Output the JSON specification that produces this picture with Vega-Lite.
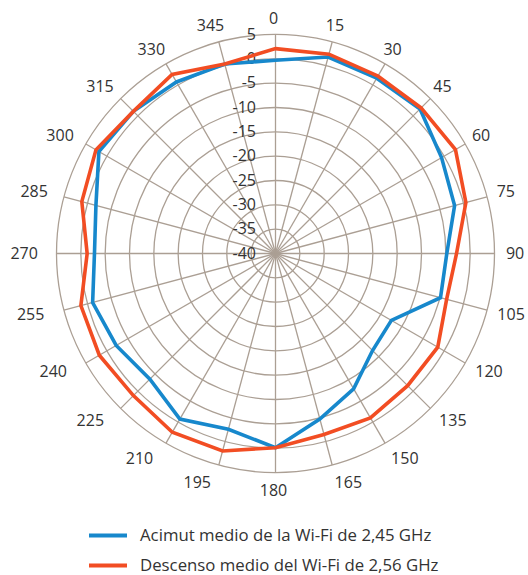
{
  "$schema": "https://vega.github.io/schema/vega-lite/v6.json",
  "width": 438,
  "height": 438,
  "autosize": {"type": "none"},
  "padding": {"left": 56.5, "top": 34.5, "right": 33.5, "bottom": 102.5},
  "background": "white",
  "config": {"view": {"stroke": null}, "font": "Open Sans"},
  "datasets": {
    "rings": [{"ring": -35}, {"ring": -30}, {"ring": -25}, {"ring": -20}, {"ring": -15}, {"ring": -10}, {"ring": -5}, {"ring": 0}, {"ring": 5}],
    "labels": [{"ring": -40}, {"ring": -35}, {"ring": -30}, {"ring": -25}, {"ring": -20}, {"ring": -15}, {"ring": -10}, {"ring": -5}, {"ring": 0}, {"ring": 5}],
    "angles": [{"angle": 0}, {"angle": 15}, {"angle": 30}, {"angle": 45}, {"angle": 60}, {"angle": 75}, {"angle": 90}, {"angle": 105}, {"angle": 120}, {"angle": 135}, {"angle": 150}, {"angle": 165}, {"angle": 180}, {"angle": 195}, {"angle": 210}, {"angle": 225}, {"angle": 240}, {"angle": 255}, {"angle": 270}, {"angle": 285}, {"angle": 300}, {"angle": 315}, {"angle": 330}, {"angle": 345}],
    "series": [
      {"series": "Acimut medio de la Wi-Fi de 2,45 GHz", "angle": 0, "value": -0.3},
      {"series": "Acimut medio de la Wi-Fi de 2,45 GHz", "angle": 15, "value": 1.8},
      {"series": "Acimut medio de la Wi-Fi de 2,45 GHz", "angle": 30, "value": 1.6},
      {"series": "Acimut medio de la Wi-Fi de 2,45 GHz", "angle": 45, "value": 2.0},
      {"series": "Acimut medio de la Wi-Fi de 2,45 GHz", "angle": 60, "value": -0.6},
      {"series": "Acimut medio de la Wi-Fi de 2,45 GHz", "angle": 75, "value": -1.9},
      {"series": "Acimut medio de la Wi-Fi de 2,45 GHz", "angle": 90, "value": -4.8},
      {"series": "Acimut medio de la Wi-Fi de 2,45 GHz", "angle": 105, "value": -4.9},
      {"series": "Acimut medio de la Wi-Fi de 2,45 GHz", "angle": 120, "value": -12.5},
      {"series": "Acimut medio de la Wi-Fi de 2,45 GHz", "angle": 135, "value": -11.8},
      {"series": "Acimut medio de la Wi-Fi de 2,45 GHz", "angle": 150, "value": -7.9},
      {"series": "Acimut medio de la Wi-Fi de 2,45 GHz", "angle": 165, "value": -4.8},
      {"series": "Acimut medio de la Wi-Fi de 2,45 GHz", "angle": 180, "value": -0.1},
      {"series": "Acimut medio de la Wi-Fi de 2,45 GHz", "angle": 195, "value": -2.6},
      {"series": "Acimut medio de la Wi-Fi de 2,45 GHz", "angle": 210, "value": -0.7},
      {"series": "Acimut medio de la Wi-Fi de 2,45 GHz", "angle": 225, "value": -3.5},
      {"series": "Acimut medio de la Wi-Fi de 2,45 GHz", "angle": 240, "value": -2.2},
      {"series": "Acimut medio de la Wi-Fi de 2,45 GHz", "angle": 255, "value": -1.1},
      {"series": "Acimut medio de la Wi-Fi de 2,45 GHz", "angle": 270, "value": -2.8},
      {"series": "Acimut medio de la Wi-Fi de 2,45 GHz", "angle": 285, "value": -1.8},
      {"series": "Acimut medio de la Wi-Fi de 2,45 GHz", "angle": 300, "value": 1.9},
      {"series": "Acimut medio de la Wi-Fi de 2,45 GHz", "angle": 315, "value": 1.3},
      {"series": "Acimut medio de la Wi-Fi de 2,45 GHz", "angle": 330, "value": 0.7},
      {"series": "Acimut medio de la Wi-Fi de 2,45 GHz", "angle": 345, "value": 0.3},
      {"series": "Descenso medio del Wi-Fi de 2,56 GHz", "angle": 0, "value": 2.1},
      {"series": "Descenso medio del Wi-Fi de 2,56 GHz", "angle": 15, "value": 2.4},
      {"series": "Descenso medio del Wi-Fi de 2,56 GHz", "angle": 30, "value": 2.1},
      {"series": "Descenso medio del Wi-Fi de 2,56 GHz", "angle": 45, "value": 2.3},
      {"series": "Descenso medio del Wi-Fi de 2,56 GHz", "angle": 60, "value": 2.7},
      {"series": "Descenso medio del Wi-Fi de 2,56 GHz", "angle": 75, "value": 0.5},
      {"series": "Descenso medio del Wi-Fi de 2,56 GHz", "angle": 90, "value": -2.8},
      {"series": "Descenso medio del Wi-Fi de 2,56 GHz", "angle": 105, "value": -3.6},
      {"series": "Descenso medio del Wi-Fi de 2,56 GHz", "angle": 120, "value": -1.5},
      {"series": "Descenso medio del Wi-Fi de 2,56 GHz", "angle": 135, "value": -1.6},
      {"series": "Descenso medio del Wi-Fi de 2,56 GHz", "angle": 150, "value": -1.0},
      {"series": "Descenso medio del Wi-Fi de 2,56 GHz", "angle": 165, "value": -1.5},
      {"series": "Descenso medio del Wi-Fi de 2,56 GHz", "angle": 180, "value": -0.1},
      {"series": "Descenso medio del Wi-Fi de 2,56 GHz", "angle": 195, "value": 2.0},
      {"series": "Descenso medio del Wi-Fi de 2,56 GHz", "angle": 210, "value": 2.4},
      {"series": "Descenso medio del Wi-Fi de 2,56 GHz", "angle": 225, "value": 1.3},
      {"series": "Descenso medio del Wi-Fi de 2,56 GHz", "angle": 240, "value": 1.8},
      {"series": "Descenso medio del Wi-Fi de 2,56 GHz", "angle": 255, "value": 1.4},
      {"series": "Descenso medio del Wi-Fi de 2,56 GHz", "angle": 270, "value": -1.3},
      {"series": "Descenso medio del Wi-Fi de 2,56 GHz", "angle": 285, "value": 1.2},
      {"series": "Descenso medio del Wi-Fi de 2,56 GHz", "angle": 300, "value": 2.6},
      {"series": "Descenso medio del Wi-Fi de 2,56 GHz", "angle": 315, "value": 1.3},
      {"series": "Descenso medio del Wi-Fi de 2,56 GHz", "angle": 330, "value": 2.5},
      {"series": "Descenso medio del Wi-Fi de 2,56 GHz", "angle": 345, "value": 0.3}
    ]
  },
  "layer": [
    {
      "data": {"name": "rings"},
      "transform": [{"calculate": "datum.ring + 40", "as": "rr"}, {"calculate": "0", "as": "c"}],
      "mark": {"type": "point", "shape": "circle", "filled": false, "stroke": "#ab9f94", "strokeWidth": 1.3, "opacity": 1},
      "encoding": {
        "x": {"field": "c", "type": "quantitative", "scale": {"domain": [-45, 45], "nice": false, "zero": false}, "axis": null},
        "y": {"field": "c", "type": "quantitative", "scale": {"domain": [-45, 45], "nice": false, "zero": false}, "axis": null},
        "size": {"field": "rr", "type": "quantitative", "scale": {"type": "pow", "exponent": 2, "domain": [0, 45], "range": [0, 191844]}, "legend": null}
      }
    },
    {
      "data": {"name": "angles"},
      "transform": [
        {"calculate": "0", "as": "c"},
        {"calculate": "45 * sin(datum.angle * PI / 180)", "as": "sx"},
        {"calculate": "45 * cos(datum.angle * PI / 180)", "as": "sy"}
      ],
      "mark": {"type": "rule", "stroke": "#ab9f94", "strokeWidth": 1.3},
      "encoding": {
        "x": {"field": "c", "type": "quantitative"},
        "y": {"field": "c", "type": "quantitative"},
        "x2": {"field": "sx"},
        "y2": {"field": "sy"}
      }
    },
    {
      "data": {"name": "labels"},
      "transform": [{"calculate": "datum.ring + 40", "as": "rr"}, {"calculate": "0", "as": "c"}],
      "mark": {"type": "text", "align": "right", "baseline": "middle", "dx": -19.5, "fontSize": 16, "color": "#333333"},
      "encoding": {
        "x": {"field": "c", "type": "quantitative"},
        "y": {"field": "rr", "type": "quantitative"},
        "text": {"field": "ring", "type": "nominal"}
      }
    },
    {
      "data": {"name": "angles"},
      "transform": [
        {"calculate": "datum.angle * PI / 180", "as": "a"},
        {"calculate": "length(toString(datum.angle)) * 4.575", "as": "hw"},
        {"calculate": "sin(datum.a) > 0.01 ? 1 : (sin(datum.a) < -0.01 ? -1 : 0)", "as": "s"},
        {"calculate": "(1 - cos(datum.a)) / 2 + (datum.s < 0 ? 0.4 * abs(sin(datum.a)) : 0)", "as": "f"},
        {"calculate": "(237 * sin(datum.a) + datum.s * datum.hw * datum.f) / 4.8667", "as": "lx"},
        {"calculate": "(236.5 - 1.5 * cos(datum.a)) * cos(datum.a) / 4.8667", "as": "ly"}
      ],
      "mark": {"type": "text", "align": "center", "baseline": "middle", "dx": -2, "fontSize": 16, "color": "#333333"},
      "encoding": {
        "x": {"field": "lx", "type": "quantitative"},
        "y": {"field": "ly", "type": "quantitative"},
        "text": {"field": "angle", "type": "nominal"}
      }
    },
    {
      "data": {"name": "series"},
      "transform": [
        {"calculate": "(datum.value + 40) * sin(datum.angle * PI / 180)", "as": "px"},
        {"calculate": "(datum.value + 40) * cos(datum.angle * PI / 180)", "as": "py"}
      ],
      "mark": {"type": "line", "interpolate": "linear-closed", "strokeWidth": 3.6, "strokeJoin": "miter"},
      "encoding": {
        "x": {"field": "px", "type": "quantitative"},
        "y": {"field": "py", "type": "quantitative"},
        "order": {"field": "angle", "type": "quantitative"},
        "color": {
          "field": "series",
          "type": "nominal",
          "scale": {"domain": ["Acimut medio de la Wi-Fi de 2,45 GHz", "Descenso medio del Wi-Fi de 2,56 GHz"], "range": ["#1788cc", "#f24d23"]},
          "legend": {
            "title": null,
            "orient": "none",
            "legendX": 30.5,
            "legendY": 480,
            "symbolType": "stroke",
            "symbolSize": 1444,
            "symbolStrokeWidth": 4,
            "labelFontSize": 16.8,
            "labelColor": "#333333",
            "labelLimit": 400,
            "labelOffset": 11,
            "rowPadding": -15,
            "padding": 0
          }
        }
      }
    }
  ]
}
